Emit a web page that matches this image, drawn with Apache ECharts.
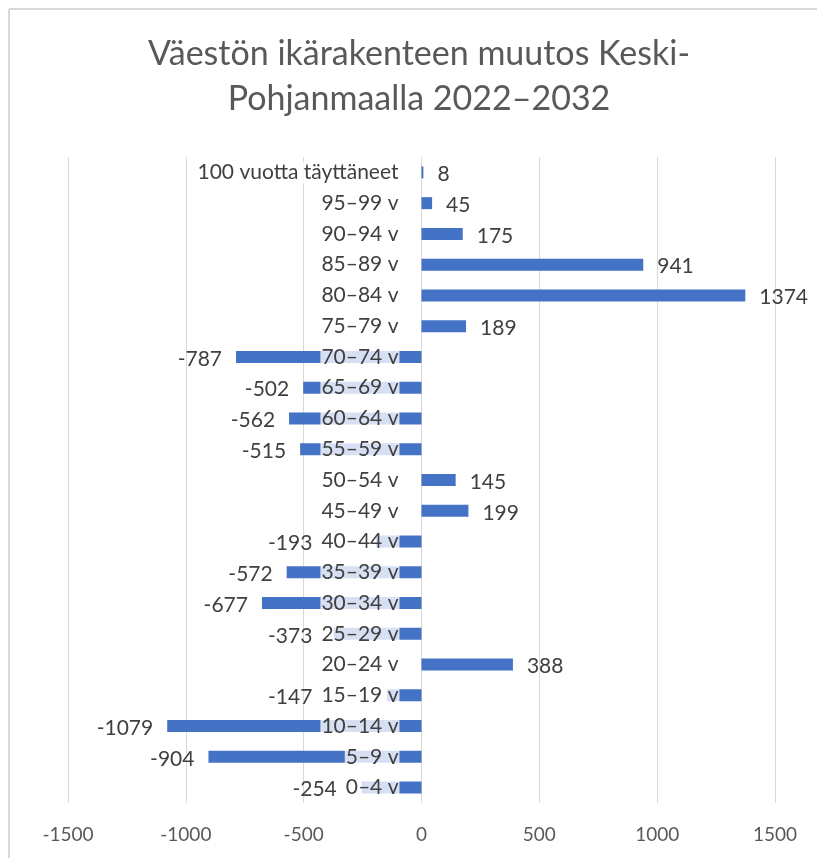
<!DOCTYPE html>
<html>
<head>
<meta charset="utf-8">
<title>Väestön ikärakenteen muutos</title>
<script src="https://cdn.jsdelivr.net/npm/echarts@6/dist/echarts.min.js"></script>
<style>
  html, body { margin: 0; padding: 0; background: #fff; }
  #chart { width: 817px; height: 858px; }
</style>
</head>
<body>
<div id="chart"></div>
<script>
// ikäryhmät ylhäältä alas
var categories = [
  '100 vuotta täyttäneet', '95–99 v', '90–94 v', '85–89 v', '80–84 v', '75–79 v',
  '70–74 v', '65–69 v', '60–64 v', '55–59 v', '50–54 v', '45–49 v', '40–44 v',
  '35–39 v', '30–34 v', '25–29 v', '20–24 v', '15–19 v', '10–14 v', '5–9 v', '0–4 v'
]
var values = [
  8, 45, 175, 941, 1374, 189,
  -787, -502, -562, -515, 145, 199, -193,
  -572, -677, -373, 388, -147, -1079, -904, -254
]
var xTicks = [-1500, -1000, -500, 0, 500, 1000, 1500]

var font = 'Lato'
var labelSize = 21
var catMargin = 22
var gridLeft = 68
var gridRight = 42
var plotWidth = 817 - gridLeft - gridRight

var xMin = xTicks[0]
var xMax = xTicks[xTicks.length - 1]
var pxPerUnit = plotWidth / (xMax - xMin)
// category labels sit at the zero line
var zeroOffset = -xMin * pxPerUnit

var ctx = document.createElement('canvas').getContext('2d')
ctx.font = labelSize + 'px ' + font
function textWidth(s) {
  return ctx.measureText(s).width
}

var chart = echarts.init(document.getElementById('chart'))

// negative value labels are pushed left so they don't run under the category label
var seriesData = values.map(function(v, i) {
  var dist = 14
  if (v < 0) {
    var barLen = -v * pxPerUnit
    var need = catMargin + textWidth(categories[i]) + 10 - barLen
    dist = Math.max(14, need)
  }
  return {
    value: v,
    label: { position: v < 0 ? 'left' : 'right', distance: dist }
  }
})

var option = {
  animation: false,
  backgroundColor: '#fff',
  title: {
    text: 'Väestön ikärakenteen muutos Keski-\nPohjanmaalla 2022–2032',
    left: 419,
    textAlign: 'center',
    top: 32,
    padding: 0,
    textStyle: {
      fontFamily: font,
      fontSize: 34,
      fontWeight: 'normal',
      color: '#595959',
      lineHeight: 45
    }
  },
  graphic: [
    { type: 'line', shape: { x1: 9, y1: 9, x2: 9, y2: 858 }, style: { stroke: '#d9d9d9', lineWidth: 2 } },
    { type: 'line', shape: { x1: 9, y1: 9, x2: 817, y2: 9 }, style: { stroke: '#d9d9d9', lineWidth: 2 } }
  ],
  grid: {
    left: gridLeft,
    right: gridRight,
    top: 157,
    bottom: 55,
    containLabel: false,
    outerBoundsMode: 'none'
  },
  xAxis: {
    type: 'value',
    min: xMin,
    max: xMax,
    interval: 500,
    axisLine: { show: false },
    axisTick: { show: false },
    axisLabel: {
      margin: 22,
      fontFamily: font,
      fontSize: 19,
      color: '#595959',
      formatter: function(v) { return String(v) }
    },
    splitLine: { lineStyle: { color: '#d9d9d9', width: 1 } }
  },
  yAxis: {
    type: 'category',
    data: categories,
    inverse: true,
    position: 'left',
    offset: -zeroOffset,
    z: 5,
    axisLine: { show: false, onZero: false },
    axisTick: { show: false },
    splitLine: { show: false },
    axisLabel: {
      margin: catMargin,
      fontFamily: font,
      fontSize: labelSize,
      color: '#404040',
      backgroundColor: 'rgba(255,255,255,0.78)',
      padding: [1, 1],
      lineHeight: 20
    }
  },
  series: [{
    type: 'bar',
    data: seriesData,
    barWidth: 12,
    itemStyle: { color: '#4472c4' },
    label: {
      show: true,
      distance: 14,
      offset: [0, 2],
      fontFamily: font,
      fontSize: labelSize,
      color: '#404040'
    }
  }]
}

chart.setOption(option)
</script>
</body>
</html>
